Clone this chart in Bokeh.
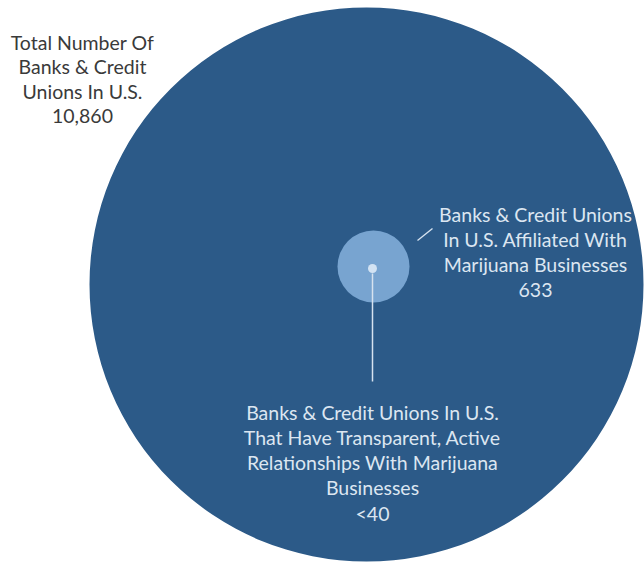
from bokeh.plotting import figure
from bokeh.models import Range1d
from bokeh.core.properties import value
from bokeh.embed import file_html
from bokeh.resources import INLINE

# Data
categories = [
    "Total Number Of\nBanks & Credit\nUnions In U.S.",
    "Banks & Credit Unions\nIn U.S. Affiliated With\nMarijuana Businesses",
    "Banks & Credit Unions In U.S.\nThat Have Transparent, Active\nRelationships With Marijuana\nBusinesses",
]
counts = ["10,860", "633", "<40"]

W, H = 644, 562
p = figure(width=W, height=H, output_backend="svg", toolbar_location=None,
           x_range=Range1d(0, W), y_range=Range1d(H, 0),
           min_border=0)
p.axis.visible = False
p.grid.visible = False
p.outline_line_color = None
p.background_fill_color = "white"

# circles (page pixel coordinates)
p.circle(x=[366], y=[284], radius=277, fill_color="#2C5A88", line_color=None)
p.circle(x=[373], y=[266], radius=36, fill_color="#78A4D0", line_color=None)
p.circle(x=[372], y=[268], radius=4.5, fill_color="#D3E3F3", line_color=None)

# leader lines
p.segment(x0=[372], y0=[273], x1=[372], y1=[381], line_color="#D6E2EF", line_width=1.5)
p.segment(x0=[417], y0=[240], x1=[432], y1=[228], line_color="#D6E2EF", line_width=1.5)

font = value("Lato")
labels = [c + "\n" + n for c, n in zip(categories, counts)]

p.text(x=[82], y=[30], text=[labels[0]], text_align="center", text_baseline="top",
       text_font=font, text_font_size="19.5px", text_color="#3A3A3A",
       text_line_height=1.07)
p.text(x=[535], y=[202], text=[labels[1]], text_align="center", text_baseline="top",
       text_font=font, text_font_size="19.5px", text_color="#DCE6F1",
       text_line_height=1.1)
p.text(x=[372], y=[400], text=[labels[2]], text_align="center", text_baseline="top",
       text_font=font, text_font_size="19.5px", text_color="#DCE6F1",
       text_line_height=1.1)

open("out.html", "w").write(file_html(p, INLINE))
